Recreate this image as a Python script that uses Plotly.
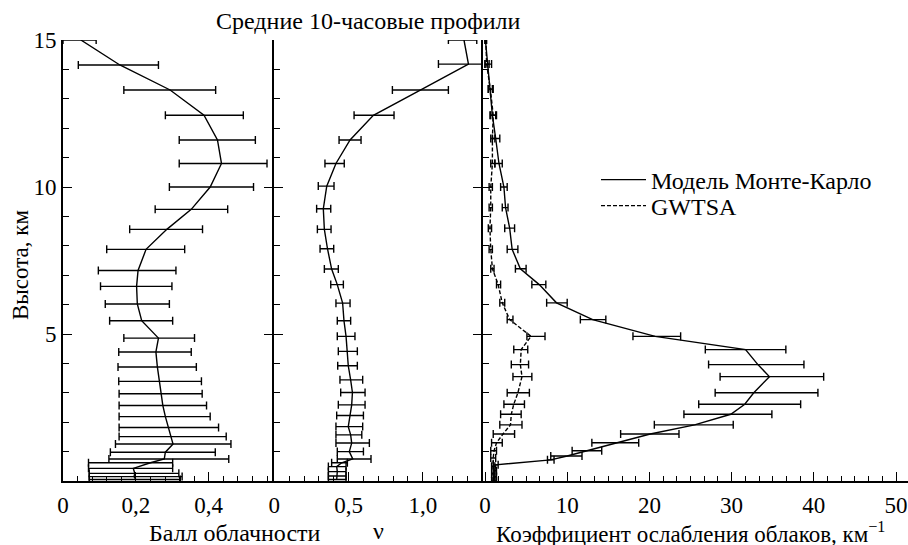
import numpy as np
import plotly.graph_objects as go

# ---------------- data ----------------
# Panel 1: cloud fraction (Балл облачности)
h_cf = [15.0, 14.15, 13.3, 12.44, 11.6, 10.8, 10.0, 9.24, 8.56, 7.88, 7.16, 6.62, 6.02, 5.45, 4.86,
        4.39, 3.88, 3.39, 2.97, 2.57, 2.19, 1.82, 1.51, 1.26, 0.98, 0.75, 0.62, 0.43, 0.26, 0.15, 0.05]
cf_mean = [0.049, 0.156, 0.294, 0.387, 0.424, 0.435, 0.404, 0.352, 0.285, 0.228, 0.206, 0.202, 0.204, 0.216, 0.262,
           0.255, 0.259, 0.265, 0.269, 0.274, 0.281, 0.290, 0.296, 0.302, 0.281, 0.278, 0.240, 0.193, 0.197, 0.195, 0.200]
cf_low = [0.0, 0.042, 0.167, 0.281, 0.319, 0.319, 0.292, 0.253, 0.183, 0.120, 0.097, 0.103, 0.116, 0.128, 0.167,
          0.153, 0.151, 0.153, 0.154, 0.154, 0.154, 0.154, 0.154, 0.144, 0.130, 0.126, 0.070, 0.070, 0.072, 0.072, 0.072]
cf_high = [0.091, 0.262, 0.419, 0.495, 0.528, 0.560, 0.523, 0.452, 0.383, 0.334, 0.310, 0.299, 0.292, 0.301, 0.361,
           0.352, 0.366, 0.380, 0.382, 0.394, 0.404, 0.427, 0.448, 0.461, 0.418, 0.455, 0.301, 0.301, 0.318, 0.327, 0.322]

# Panel 2: nu
h_nu = [15.0, 14.18, 13.3, 12.44, 11.6, 10.8, 10.03, 9.26, 8.56, 7.9, 7.21, 6.68, 6.05, 5.45, 4.92,
        4.41, 3.92, 3.44, 3.01, 2.59, 2.23, 1.85, 1.57, 1.29, 1.0, 0.75, 0.62, 0.49, 0.32, 0.17, 0.05]
nu_mean = [1.277, 1.307, 0.986, 0.667, 0.510, 0.415, 0.353, 0.330, 0.337, 0.358, 0.386, 0.424, 0.460, 0.469, 0.483,
           0.492, 0.498, 0.514, 0.526, 0.521, 0.510, 0.498, 0.514, 0.521, 0.505, 0.528, 0.454, 0.420, 0.424, 0.420, 0.420]
nu_low = [1.172, 1.105, 0.795, 0.537, 0.436, 0.341, 0.296, 0.285, 0.290, 0.308, 0.337, 0.380, 0.415, 0.424, 0.424,
          0.431, 0.427, 0.442, 0.447, 0.431, 0.420, 0.415, 0.415, 0.415, 0.424, 0.424, 0.386, 0.364, 0.364, 0.364, 0.364]
nu_high = [1.363, 1.400, 1.172, 0.806, 0.584, 0.471, 0.402, 0.380, 0.382, 0.400, 0.431, 0.465, 0.510, 0.514, 0.543,
           0.559, 0.559, 0.595, 0.611, 0.611, 0.600, 0.595, 0.589, 0.640, 0.600, 0.651, 0.492, 0.483, 0.483, 0.483, 0.483]

# Panel 3: extinction coefficient, Monte-Carlo model
h_mc = [15.0, 14.18, 13.33, 12.44, 11.65, 10.8, 10.0, 9.3, 8.6, 7.88, 7.22, 6.68, 6.06, 5.49, 4.92,
        4.47, 3.96, 3.55, 3.0, 2.61, 2.27, 1.91, 1.6, 1.3, 1.03, 0.85, 0.72, 0.55, 0.35, 0.15, 0.0]
mc_mean = [0.05, 0.3, 0.6, 0.9, 1.3, 1.7, 2.3, 2.5, 3.0, 3.3, 4.3, 6.6, 8.7, 13.1, 20.7,
           31.7, 33.2, 34.6, 32.7, 31.6, 29.9, 25.5, 20.1, 15.9, 12.4, 10.0, 8.0, 1.3, 1.2, 1.2, 1.2]
mc_low = [0.0, 0.0, 0.4, 0.6, 0.9, 1.2, 1.9, 2.1, 2.4, 2.7, 3.7, 5.7, 7.5, 11.6, 18.0,
          26.8, 27.2, 28.6, 28.0, 26.0, 24.2, 20.6, 16.5, 13.0, 10.6, 8.0, 7.6, 1.0, 1.0, 1.0, 1.0]
mc_high = [0.15, 0.8, 1.0, 1.4, 1.8, 2.1, 2.7, 2.8, 3.6, 4.0, 5.0, 7.4, 10.0, 14.7, 23.8,
           36.6, 38.8, 41.2, 40.5, 38.4, 34.9, 30.2, 23.6, 18.7, 14.2, 11.8, 8.4, 1.6, 1.4, 1.4, 1.4]

# Panel 3: GWTSA
h_gw = [15.0, 14.18, 13.33, 12.44, 11.65, 10.8, 10.0, 9.3, 8.6, 7.88, 7.22, 6.68, 6.06, 5.49, 4.92,
        4.47, 3.96, 3.55, 3.0, 2.61, 2.27, 1.91, 1.6, 1.3, 1.03, 0.78, 0.5, 0.25, 0.0]
gw_mean = [0.1, 0.2, 0.65, 1.0, 0.9, 0.9, 0.7, 0.7, 0.6, 0.7, 0.9, 1.6, 2.1, 3.0, 5.6,
           4.4, 4.3, 4.5, 4.0, 3.5, 3.2, 3.1, 2.2, 1.4, 1.1, 1.0, 1.0, 1.0, 1.0]
gw_low = [0.0, 0.0, 0.4, 0.7, 0.7, 0.7, 0.5, 0.5, 0.4, 0.5, 0.7, 1.4, 1.8, 2.7, 5.1,
          3.5, 3.2, 3.4, 2.7, 2.3, 1.9, 1.8, 1.0, 0.8, 0.7, 0.7, 0.8, 0.8, 0.8]
gw_high = [0.2, 0.5, 0.9, 1.3, 1.2, 1.2, 0.9, 0.9, 0.8, 0.9, 1.1, 1.9, 2.4, 3.4, 7.3,
           5.2, 5.3, 5.7, 5.4, 4.8, 4.4, 4.5, 3.6, 2.1, 1.4, 1.3, 1.2, 1.2, 1.2]

# tick labels
cf_ticks = [0, 0.2, 0.4]
cf_ticktext = ["0", "0,2", "0,4"]
nu_ticks = [0, 0.5, 1.0]
nu_ticktext = ["0", "0,5", "1,0"]
ext_ticks = [0, 10, 20, 30, 40, 50]
ext_ticktext = ["0", "10", "20", "30", "40", "50"]
h_ticks = [5, 10, 15]
h_ticktext = ["5", "10", "15"]

title_text = "Средние 10-часовые профили"
ylabel = "Высота, км"
xlabel1 = "Балл облачности"
xlabel2 = "ν"
xlabel3 = "Коэффициент ослабления облаков, км<sup>−1</sup>"
name_mc = "Модель Монте-Карло"
name_gw = "GWTSA"

# ---------------- figure ----------------
FONT = "Liberation Serif"
FS_TICK = 23
FS_LAB = 24


def err(mean, low, high):
    m = np.array(mean); lo = np.array(low); hi = np.array(high)
    return dict(type="data", symmetric=False, array=list(hi - m), arrayminus=list(m - lo),
                color="black", thickness=1.4, width=4)


fig = go.Figure()
fig.add_trace(go.Scatter(x=cf_mean, y=h_cf, mode="lines", line=dict(color="black", width=1.4),
                         error_x=err(cf_mean, cf_low, cf_high), xaxis="x", yaxis="y",
                         showlegend=False, cliponaxis=False))
fig.add_trace(go.Scatter(x=nu_mean, y=h_nu, mode="lines", line=dict(color="black", width=1.4),
                         error_x=err(nu_mean, nu_low, nu_high), xaxis="x2", yaxis="y2",
                         showlegend=False, cliponaxis=False))
fig.add_trace(go.Scatter(x=mc_mean, y=h_mc, mode="lines", line=dict(color="black", width=1.4),
                         error_x=err(mc_mean, mc_low, mc_high), xaxis="x3", yaxis="y3",
                         name=name_mc, cliponaxis=False, legend="legend"))
fig.add_trace(go.Scatter(x=gw_mean, y=h_gw, mode="lines", line=dict(color="black", width=1.4, dash="4px,2px"),
                         error_x=err(gw_mean, gw_low, gw_high), xaxis="x3", yaxis="y3",
                         name=name_gw, cliponaxis=False, legend="legend2"))
# helper traces for outside halves of major ticks on inner axes
fig.add_trace(go.Scatter(x=[None], y=[None], xaxis="x2", yaxis="y4", showlegend=False, hoverinfo="skip"))
fig.add_trace(go.Scatter(x=[None], y=[None], xaxis="x3", yaxis="y5", showlegend=False, hoverinfo="skip"))

L, R, T, B = 63, 0, 40, 64
W, H = 908, 545
pw = W - L - R
ph = H - T - B
d1 = (274.3 - L) / pw
d2 = (483.3 - L) / pw
# panel 3 scale: 0 at x=485 px, 50 at x=896 px
k3 = (896 - 485) / 50.0
x3_range = [-(485 - 483.3) / k3, 50 + (W - R - 896) / k3]

xcommon = dict(showline=True, linecolor="black", linewidth=1.6, ticks="inside", ticklen=9,
               tickwidth=1.3, tickcolor="black", showgrid=False, zeroline=False,
               tickfont=dict(family=FONT, size=FS_TICK, color="black"), tickmode="array",
               ticklabelstandoff=3, ticklabeloverflow="allow", automargin=False)
ycommon = dict(showline=True, linecolor="black", linewidth=1.6, ticks="inside", ticklen=9,
               tickwidth=1.3, tickcolor="black", showgrid=False, zeroline=False, range=[0, 15],
               tickmode="array", tickvals=h_ticks, automargin=False,
               minor=dict(tickvals=list(np.arange(1, 15, 1.0)), ticks="inside", ticklen=6,
                          tickwidth=1.3, tickcolor="black", showgrid=False),
               tickfont=dict(family=FONT, size=FS_TICK, color="black"))

legcommon = dict(xanchor="left", yanchor="middle", bgcolor="rgba(0,0,0,0)",
                 font=dict(family=FONT, size=FS_LAB, color="black"), itemwidth=45)

fig.update_layout(
    width=W, height=H, margin=dict(l=L, r=R, t=T, b=B, autoexpand=False),
    paper_bgcolor="white", plot_bgcolor="white",
    font=dict(family=FONT, size=FS_LAB, color="black"),
    xaxis=dict(domain=[0, d1], range=[0, 0.58], anchor="y", tickvals=cf_ticks, ticktext=cf_ticktext,
               minor=dict(tickvals=list(np.arange(0.04, 0.58, 0.04)), ticks="inside", ticklen=5,
                          tickwidth=1.3, tickcolor="black", showgrid=False), **xcommon),
    xaxis2=dict(domain=[d1, d2], range=[0, 1.407], anchor="y2", tickvals=nu_ticks, ticktext=nu_ticktext,
                minor=dict(tickvals=list(np.arange(0.1, 1.4, 0.1)), ticks="inside", ticklen=5,
                           tickwidth=1.3, tickcolor="black", showgrid=False), **xcommon),
    xaxis3=dict(domain=[d2, 1], range=x3_range, anchor="y3", tickvals=ext_ticks, ticktext=ext_ticktext,
                minor=dict(tickvals=list(np.arange(10 / 6, 50, 10 / 6)), ticks="inside", ticklen=5,
                           tickwidth=1.3, tickcolor="black", showgrid=False), **xcommon),
    yaxis=dict(anchor="x", ticktext=h_ticktext, showticklabels=True, **ycommon),
    yaxis2=dict(anchor="x2", showticklabels=False, **ycommon),
    yaxis3=dict(anchor="x3", showticklabels=False, **ycommon),
    yaxis4=dict(anchor="x2", overlaying="y2", range=[0, 15], showline=False, showgrid=False, zeroline=False,
                ticks="outside", ticklen=9, tickwidth=1.3, tickcolor="black", tickmode="array",
                tickvals=[5, 10], showticklabels=False, automargin=False),
    yaxis5=dict(anchor="x3", overlaying="y3", range=[0, 15], showline=False, showgrid=False, zeroline=False,
                ticks="outside", ticklen=9, tickwidth=1.3, tickcolor="black", tickmode="array",
                tickvals=[5, 10], showticklabels=False, automargin=False),
    legend=dict(x=(596 - L) / pw, y=1 - (180 - T) / ph, **legcommon),
    legend2=dict(x=(596 - L) / pw, y=1 - (206 - T) / ph, **legcommon),
    showlegend=True,
)


def px_to_paper(xp, yp):
    return (xp - L) / pw, 1 - (yp - T) / ph


annos = [
    (title_text, 368, 21, 0, FS_LAB),
    (xlabel1, 235, 533, 0, FS_LAB),
    (xlabel2, 378, 531, 0, FS_LAB),
    (xlabel3, 690, 532, 0, 23),
    (ylabel, 20, 265, -90, 23),
]
for text, xp, yp, ang, fs in annos:
    xa, ya = px_to_paper(xp, yp)
    fig.add_annotation(text=text, x=xa, y=ya, xref="paper", yref="paper", showarrow=False,
                       xanchor="center", yanchor="middle", textangle=ang,
                       font=dict(family=FONT, size=fs, color="black"))

fig.write_html("out.html")
